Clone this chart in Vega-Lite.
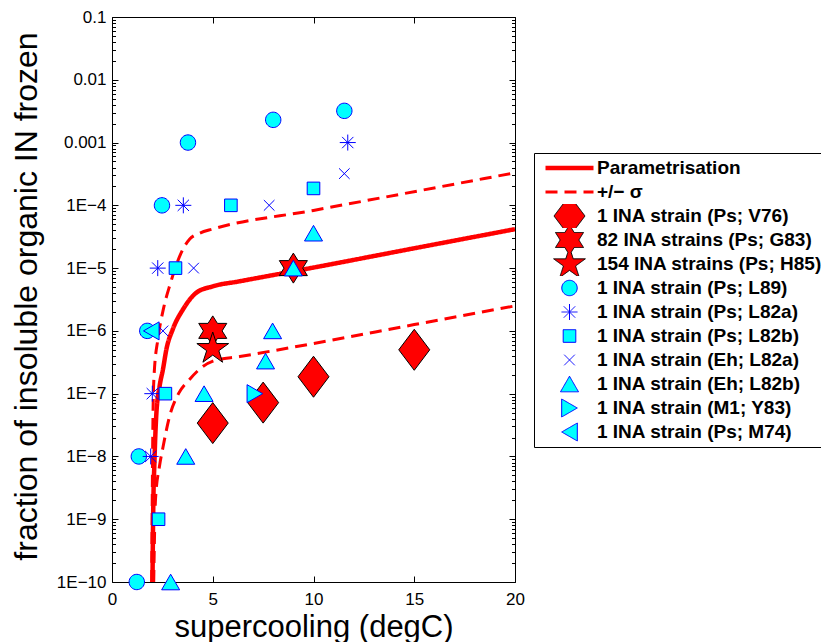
{
  "$schema": "https://vega.github.io/schema/vega-lite/v6.json",
  "width": 403,
  "height": 565,
  "autosize": {"type": "none"},
  "padding": {"left": 112, "top": 17, "right": 306, "bottom": 60},
  "background": "#ffffff",
  "datasets": {
    "curves": [
      {"series": "Parametrisation", "part": "mid", "x": 2.01, "y": 1e-10},
      {"series": "Parametrisation", "part": "mid", "x": 2.04, "y": 1e-9},
      {"series": "Parametrisation", "part": "mid", "x": 2.11, "y": 8.9e-9},
      {"series": "Parametrisation", "part": "mid", "x": 2.2, "y": 4.7e-8},
      {"series": "Parametrisation", "part": "mid", "x": 2.36, "y": 1.3e-7},
      {"series": "Parametrisation", "part": "mid", "x": 2.53, "y": 2.45e-7},
      {"series": "Parametrisation", "part": "mid", "x": 2.7, "y": 5.1e-7},
      {"series": "Parametrisation", "part": "mid", "x": 3.02, "y": 1.07e-6},
      {"series": "Parametrisation", "part": "mid", "x": 3.52, "y": 2.19e-6},
      {"series": "Parametrisation", "part": "mid", "x": 4.19, "y": 4.07e-6},
      {"series": "Parametrisation", "part": "mid", "x": 5.01, "y": 5.13e-6},
      {"series": "Parametrisation", "part": "mid", "x": 6.34, "y": 6.17e-6},
      {"series": "Parametrisation", "part": "mid", "x": 10, "y": 1.02e-5},
      {"series": "Parametrisation", "part": "mid", "x": 15, "y": 2.07e-5},
      {"series": "Parametrisation", "part": "mid", "x": 20, "y": 4.17e-5},
      {"series": "+/− σ", "part": "upper", "x": 1.97, "y": 1e-10},
      {"series": "+/− σ", "part": "upper", "x": 1.99, "y": 1e-9},
      {"series": "+/− σ", "part": "upper", "x": 2.04, "y": 6e-8},
      {"series": "+/− σ", "part": "upper", "x": 2.09, "y": 2.0e-7},
      {"series": "+/− σ", "part": "upper", "x": 2.29, "y": 7.8e-7},
      {"series": "+/− σ", "part": "upper", "x": 2.56, "y": 2.3e-6},
      {"series": "+/− σ", "part": "upper", "x": 2.89, "y": 5.6e-6},
      {"series": "+/− σ", "part": "upper", "x": 3.45, "y": 1.8e-5},
      {"series": "+/− σ", "part": "upper", "x": 3.86, "y": 2.9e-5},
      {"series": "+/− σ", "part": "upper", "x": 4.35, "y": 3.6e-5},
      {"series": "+/− σ", "part": "upper", "x": 5.01, "y": 4.2e-5},
      {"series": "+/− σ", "part": "upper", "x": 10, "y": 8.3e-5},
      {"series": "+/− σ", "part": "upper", "x": 14.3, "y": 1.5e-4},
      {"series": "+/− σ", "part": "upper", "x": 20, "y": 3.3e-4},
      {"series": "+/− σ", "part": "lower", "x": 2.07, "y": 1e-10},
      {"series": "+/− σ", "part": "lower", "x": 2.16, "y": 2.1e-9},
      {"series": "+/− σ", "part": "lower", "x": 2.36, "y": 7.1e-9},
      {"series": "+/− σ", "part": "lower", "x": 2.53, "y": 1.4e-8},
      {"series": "+/− σ", "part": "lower", "x": 2.86, "y": 4.4e-8},
      {"series": "+/− σ", "part": "lower", "x": 3.3, "y": 1.0e-7},
      {"series": "+/− σ", "part": "lower", "x": 3.86, "y": 1.7e-7},
      {"series": "+/− σ", "part": "lower", "x": 4.44, "y": 2.6e-7},
      {"series": "+/− σ", "part": "lower", "x": 5.01, "y": 3.3e-7},
      {"series": "+/− σ", "part": "lower", "x": 6.34, "y": 3.9e-7},
      {"series": "+/− σ", "part": "lower", "x": 10, "y": 6.3e-7},
      {"series": "+/− σ", "part": "lower", "x": 15, "y": 1.26e-6},
      {"series": "+/− σ", "part": "lower", "x": 20, "y": 2.5e-6}
    ],
    "obs": [
      {"series": "1 INA strain (Ps; V76)", "x": 5.0, "y": 3.4e-8},
      {"series": "1 INA strain (Ps; V76)", "x": 7.5, "y": 7.2e-8},
      {"series": "1 INA strain (Ps; V76)", "x": 10.0, "y": 1.86e-7},
      {"series": "1 INA strain (Ps; V76)", "x": 15.0, "y": 5.0e-7},
      {"series": "82 INA strains (Ps; G83)", "x": 5.0, "y": 1.0e-6},
      {"series": "82 INA strains (Ps; G83)", "x": 9.0, "y": 1.0e-5},
      {"series": "154 INA strains (Ps; H85)", "x": 5.0, "y": 5.2e-7},
      {"series": "1 INA strain (Ps; L89)", "x": 1.23, "y": 1e-10},
      {"series": "1 INA strain (Ps; L89)", "x": 1.33, "y": 1e-8},
      {"series": "1 INA strain (Ps; L89)", "x": 1.75, "y": 1e-6},
      {"series": "1 INA strain (Ps; L89)", "x": 2.48, "y": 1e-4},
      {"series": "1 INA strain (Ps; L89)", "x": 3.77, "y": 1e-3},
      {"series": "1 INA strain (Ps; L89)", "x": 8.0, "y": 2.3e-3},
      {"series": "1 INA strain (Ps; L89)", "x": 11.53, "y": 3.2e-3},
      {"series": "1 INA strain (Ps; L82a)", "x": 1.92, "y": 1e-8},
      {"series": "1 INA strain (Ps; L82a)", "x": 2.0, "y": 1e-7},
      {"series": "1 INA strain (Ps; L82a)", "x": 2.27, "y": 1e-5},
      {"series": "1 INA strain (Ps; L82a)", "x": 3.54, "y": 1e-4},
      {"series": "1 INA strain (Ps; L82a)", "x": 11.7, "y": 1e-3},
      {"series": "1 INA strain (Ps; L82b)", "x": 2.31, "y": 1e-9},
      {"series": "1 INA strain (Ps; L82b)", "x": 2.65, "y": 1e-7},
      {"series": "1 INA strain (Ps; L82b)", "x": 3.15, "y": 1e-5},
      {"series": "1 INA strain (Ps; L82b)", "x": 5.9, "y": 1e-4},
      {"series": "1 INA strain (Ps; L82b)", "x": 10.0, "y": 1.86e-4},
      {"series": "1 INA strain (Eh; L82a)", "x": 2.53, "y": 1e-6},
      {"series": "1 INA strain (Eh; L82a)", "x": 4.05, "y": 1e-5},
      {"series": "1 INA strain (Eh; L82a)", "x": 7.8, "y": 1e-4},
      {"series": "1 INA strain (Eh; L82a)", "x": 11.53, "y": 3.2e-4},
      {"series": "1 INA strain (Eh; L82b)", "x": 2.91, "y": 1e-10},
      {"series": "1 INA strain (Eh; L82b)", "x": 3.66, "y": 1e-8},
      {"series": "1 INA strain (Eh; L82b)", "x": 4.57, "y": 1e-7},
      {"series": "1 INA strain (Eh; L82b)", "x": 7.62, "y": 3.3e-7},
      {"series": "1 INA strain (Eh; L82b)", "x": 7.97, "y": 1e-6},
      {"series": "1 INA strain (Eh; L82b)", "x": 9.0, "y": 1e-5},
      {"series": "1 INA strain (Eh; L82b)", "x": 10.0, "y": 3.6e-5},
      {"series": "1 INA strain (M1; Y83)", "x": 7.09, "y": 1e-7},
      {"series": "1 INA strain (Ps; M74)", "x": 1.95, "y": 1e-6}
    ]
  },
  "resolve": {"axis": {"x": "independent", "y": "independent"}},
  "layer": [
    {
      "data": {"name": "curves"},
      "transform": [{"filter": "datum.series === 'Parametrisation'"}],
      "mark": {"type": "line", "interpolate": "monotone", "strokeWidth": 4.5, "clip": true},
      "encoding": {
        "x": {"field": "x", "type": "quantitative",
              "scale": {"domain": [0, 20], "nice": false, "zero": false},
              "axis": {"orient": "bottom", "values": [0, 5, 10, 15, 20], "tickSize": -6, "labelPadding": 15, "labelBaseline": "top",
                       "title": "supercooling (degC)", "titleX": 201.5, "titleY": 54, "titleBaseline": "alphabetic", "titleAlign": "center", "titleAnchor": null, "titleFontSize": 31}},
        "y": {"field": "y", "type": "quantitative",
              "scale": {"type": "log", "domain": [1e-10, 0.1], "nice": false},
              "axis": {"orient": "left", "values": [1e-10, 1e-9, 1e-8, 1e-7, 1e-6, 1e-5, 1e-4, 1e-3, 1e-2, 1e-1], "tickSize": -6, "labelPadding": 12,
                       "labelExpr": "datum.value > 0.05 ? '0.1' : datum.value > 0.005 ? '0.01' : datum.value > 0.0005 ? '0.001' : '1E−' + round(-log(datum.value)/LN10)",
                       "title": "fraction of insoluble organic IN frozen", "titleX": -75.3, "titleY": 279, "titleAngle": -90, "titleBaseline": "alphabetic", "titleAlign": "center", "titleAnchor": null}},
        "detail": {"field": "part"},
        "stroke": {"field": "series", "type": "nominal",
                   "scale": {"domain": ["Parametrisation","+/− σ","1 INA strain (Ps; V76)","82 INA strains (Ps; G83)","154 INA strains (Ps; H85)","1 INA strain (Ps; L89)","1 INA strain (Ps; L82a)","1 INA strain (Ps; L82b)","1 INA strain (Eh; L82a)","1 INA strain (Eh; L82b)","1 INA strain (M1; Y83)","1 INA strain (Ps; M74)"],
                             "range": ["#ff0000","#ff0000","#000000","#000000","#000000","#0000ff","#0000ff","#0000ff","#0000ff","#0000ff","#0000ff","#0000ff"]},
                   "legend": {"title": null, "orient": "none", "legendX": 422, "legendY": 136, "padding": 3, "strokeColor": "#000000", "fillColor": "#ffffff",
                              "clipHeight": 24, "rowPadding": 0, "symbolSize": 4, "symbolOffset": 23, "labelOffset": 18,
                              "labelFont": "Liberation Sans", "labelFontSize": 19, "labelFontWeight": "bold", "labelColor": "#000000", "labelLimit": 400, "labelBaseline": "middle", "cornerRadius": 0,
                              "encode": {"symbols": {"update": {
                                "shape": {"scale": "shape", "field": "value"},
                                "fill": {"scale": "fill", "field": "value"},
                                "stroke": {"scale": "stroke", "field": "value"},
                                "strokeDash": {"scale": "strokeDash", "field": "value"},
                                "strokeWidth": {"signal": "datum.value === 'Parametrisation' ? 4.5 : datum.value === '+/− σ' ? 3 : 1"},
                                "size": {"value": 4},
                                "opacity": {"value": 1}}}}}},
        "strokeDash": {"field": "series", "type": "nominal",
                       "scale": {"domain": ["Parametrisation","+/− σ","1 INA strain (Ps; V76)","82 INA strains (Ps; G83)","154 INA strains (Ps; H85)","1 INA strain (Ps; L89)","1 INA strain (Ps; L82a)","1 INA strain (Ps; L82b)","1 INA strain (Eh; L82a)","1 INA strain (Eh; L82b)","1 INA strain (M1; Y83)","1 INA strain (Ps; M74)"],
                                 "range": [[1,0],[12,7],[1,0],[1,0],[1,0],[1,0],[1,0],[1,0],[1,0],[1,0],[1,0],[1,0]]}}
      }
    },
    {
      "data": {"name": "curves"},
      "transform": [{"filter": "datum.series !== 'Parametrisation'"}],
      "mark": {"type": "line", "interpolate": "monotone", "strokeWidth": 3, "clip": true},
      "encoding": {
        "x": {"field": "x", "type": "quantitative", "axis": null},
        "y": {"field": "y", "type": "quantitative", "axis": null},
        "detail": {"field": "part"},
        "stroke": {"field": "series", "type": "nominal"},
        "strokeDash": {"field": "series", "type": "nominal"}
      }
    },
    {
      "data": {"name": "obs"},
      "mark": {"type": "point", "size": 4, "opacity": 1, "filled": true, "strokeWidth": 1},
      "encoding": {
        "x": {"field": "x", "type": "quantitative",
              "axis": {"orient": "top", "values": [0, 5, 10, 15, 20], "tickSize": -6, "labels": false, "title": null}},
        "y": {"field": "y", "type": "quantitative",
              "axis": {"orient": "right", "values": [1e-10, 1e-9, 1e-8, 1e-7, 1e-6, 1e-5, 1e-4, 1e-3, 1e-2, 1e-1], "tickSize": -6, "labels": false, "title": null}},
        "shape": {"field": "series", "type": "nominal",
                  "scale": {"domain": ["Parametrisation","+/− σ","1 INA strain (Ps; V76)","82 INA strains (Ps; G83)","154 INA strains (Ps; H85)","1 INA strain (Ps; L89)","1 INA strain (Ps; L82a)","1 INA strain (Ps; L82b)","1 INA strain (Eh; L82a)","1 INA strain (Eh; L82b)","1 INA strain (M1; Y83)","1 INA strain (Ps; M74)"],
                            "range": ["M-24,0H24","M-24,0H24",
                                      "M0,-20.5L15.5,0L0,20.5L-15.5,0Z",
                                      "M0,-15L4.68,-7.5L14.03,-7.5L9.35,0L14.03,7.5L4.68,7.5L0,15L-4.68,7.5L-14.03,7.5L-9.35,0L-14.03,-7.5L-4.68,-7.5Z",
                                      "M0,-16.7L3.75,-5.16L15.88,-5.16L6.07,1.97L9.82,13.51L0,6.38L-9.82,13.51L-6.07,1.97L-15.88,-5.16L-3.75,-5.16Z",
                                      "M7.7,0A7.7,7.7,0,1,1,-7.7,0A7.7,7.7,0,1,1,7.7,0Z",
                                      "M-8,0H8M0,-8V8M-5.66,-5.66L5.66,5.66M-5.66,5.66L5.66,-5.66",
                                      "M-6.3,-6.3H6.3V6.3H-6.3Z",
                                      "M-5.3,-5.3L5.3,5.3M-5.3,5.3L5.3,-5.3",
                                      "M0,-7.8L9,7.8L-9,7.8Z",
                                      "M7.8,0L-7.8,9L-7.8,-9Z",
                                      "M-7.8,0L7.8,-9L7.8,9Z"]}},
        "fill": {"field": "series", "type": "nominal",
                 "scale": {"domain": ["Parametrisation","+/− σ","1 INA strain (Ps; V76)","82 INA strains (Ps; G83)","154 INA strains (Ps; H85)","1 INA strain (Ps; L89)","1 INA strain (Ps; L82a)","1 INA strain (Ps; L82b)","1 INA strain (Eh; L82a)","1 INA strain (Eh; L82b)","1 INA strain (M1; Y83)","1 INA strain (Ps; M74)"],
                           "range": ["transparent","transparent","#ff0000","#ff0000","#ff0000","#00ffff","transparent","#00ffff","transparent","#00ffff","#00ffff","#00ffff"]}},
        "stroke": {"field": "series", "type": "nominal"}
      }
    },
    {
      "data": {"name": "curves"},
      "mark": {"type": "point", "opacity": 0, "size": 1},
      "encoding": {
        "x": {"field": "x", "type": "quantitative", "axis": null},
        "y": {"field": "y", "type": "quantitative",
              "axis": {"orient": "left", "domain": false, "labels": false, "title": null, "tickSize": -3.5,
                       "values": [2e-10,3e-10,4e-10,5e-10,6e-10,7e-10,8e-10,9e-10,2e-9,3e-9,4e-9,5e-9,6e-9,7e-9,8e-9,9e-9,2e-8,3e-8,4e-8,5e-8,6e-8,7e-8,8e-8,9e-8,2e-7,3e-7,4e-7,5e-7,6e-7,7e-7,8e-7,9e-7,2e-6,3e-6,4e-6,5e-6,6e-6,7e-6,8e-6,9e-6,2e-5,3e-5,4e-5,5e-5,6e-5,7e-5,8e-5,9e-5,2e-4,3e-4,4e-4,5e-4,6e-4,7e-4,8e-4,9e-4,2e-3,3e-3,4e-3,5e-3,6e-3,7e-3,8e-3,9e-3,2e-2,3e-2,4e-2,5e-2,6e-2,7e-2,8e-2,9e-2]}}
      }
    },
    {
      "data": {"name": "curves"},
      "mark": {"type": "point", "opacity": 0, "size": 1},
      "encoding": {
        "x": {"field": "x", "type": "quantitative", "axis": null},
        "y": {"field": "y", "type": "quantitative",
              "axis": {"orient": "right", "domain": false, "labels": false, "title": null, "tickSize": -3.5,
                       "values": [2e-10,3e-10,4e-10,5e-10,6e-10,7e-10,8e-10,9e-10,2e-9,3e-9,4e-9,5e-9,6e-9,7e-9,8e-9,9e-9,2e-8,3e-8,4e-8,5e-8,6e-8,7e-8,8e-8,9e-8,2e-7,3e-7,4e-7,5e-7,6e-7,7e-7,8e-7,9e-7,2e-6,3e-6,4e-6,5e-6,6e-6,7e-6,8e-6,9e-6,2e-5,3e-5,4e-5,5e-5,6e-5,7e-5,8e-5,9e-5,2e-4,3e-4,4e-4,5e-4,6e-4,7e-4,8e-4,9e-4,2e-3,3e-3,4e-3,5e-3,6e-3,7e-3,8e-3,9e-3,2e-2,3e-2,4e-2,5e-2,6e-2,7e-2,8e-2,9e-2]}}
      }
    }
  ],
  "config": {
    "font": "Liberation Sans",
    "view": {"stroke": null},
    "axis": {"grid": false, "domainColor": "#000000", "domainWidth": 1, "tickColor": "#000000", "tickWidth": 1,
             "labelColor": "#000000", "labelFont": "Liberation Sans", "labelFontSize": 17,
             "titleColor": "#000000", "titleFont": "Liberation Sans", "titleFontSize": 32, "titleFontWeight": "normal",
             "labelOverlap": false, "labelFlush": false}
  }
}
